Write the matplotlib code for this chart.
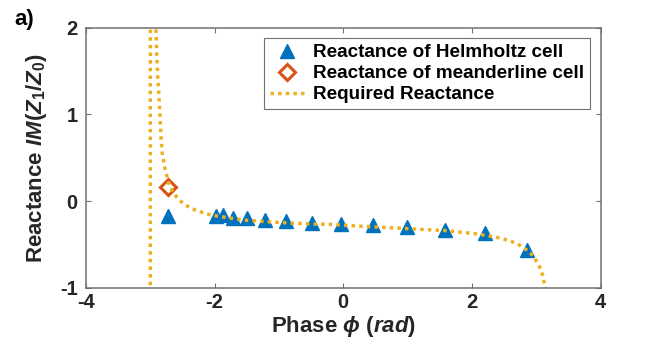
import matplotlib
matplotlib.use("Agg")
import matplotlib.pyplot as plt

# Helmholtz cell reactance (blue triangles)
helm_phase = [-2.72, -1.98, -1.875, -1.71, -1.50, -1.22, -0.89, -0.49,
              -0.04, 0.46, 0.99, 1.58, 2.20, 2.86]
helm_react = [-0.17, -0.17, -0.16, -0.19, -0.20, -0.22, -0.23, -0.25,
              -0.26, -0.28, -0.30, -0.33, -0.37, -0.565]

# meanderline cell reactance (orange diamond)
mean_phase = [-2.72]
mean_react = [0.165]

# required reactance curve
req_phase = [-3.00, -3.00, -2.925, -2.913, -2.893, -2.862, -2.835, -2.815,
             -2.79, -2.768, -2.737, -2.706, -2.653, -2.575, -2.488, -2.384,
             -2.271, -2.151, -2.031, -1.555, -1.19, -0.83, -0.456, -0.207,
             0.146, 0.638, 1.126, 1.608, 2.10, 2.463, 2.697, 2.893, 2.966,
             3.033, 3.085, 3.11, 3.137, 3.15]
req_react = [-1.5, 2.6, 2.2, 2.00, 1.55, 1.165, 0.75, 0.55,
             0.45, 0.36, 0.27, 0.185, 0.107, 0.031, -0.027, -0.077,
             -0.112, -0.142, -0.165, -0.219, -0.238, -0.254, -0.265, -0.269,
             -0.285, -0.304, -0.323, -0.342, -0.381, -0.43, -0.488, -0.585, -0.65,
             -0.73, -0.815, -0.90, -0.99, -1.1]

xticks = [-4, -2, 0, 2, 4]
yticks = [-1, 0, 1, 2]

plt.rcParams['font.family'] = ['Liberation Sans', 'DejaVu Sans']
plt.rcParams['font.weight'] = 'bold'
plt.rcParams['axes.unicode_minus'] = False
plt.rcParams['mathtext.fontset'] = 'custom'
plt.rcParams['mathtext.rm'] = 'Liberation Sans:bold'
plt.rcParams['mathtext.bf'] = 'Liberation Sans:bold'
plt.rcParams['mathtext.it'] = 'Liberation Sans:italic:bold'

fig = plt.figure(figsize=(6.64, 3.48), dpi=100)
ax = fig.add_axes([0.1295, 0.1733, 0.775, 0.7467])

ax.plot(helm_phase, helm_react, linestyle='none', marker='^', markersize=10,
        color='#0072BD', label='Reactance of Helmholtz cell')
ax.plot(mean_phase, mean_react, linestyle='none', marker='D', markersize=8,
        markeredgewidth=2.2, markerfacecolor='white', color='#D95319',
        label='Reactance of meanderline cell')
ax.plot(req_phase, req_react, linestyle=(0, (1, 1.2)), linewidth=2.5,
        color='#EDB120', label='Required Reactance')

ax.set_xlim(-4, 4)
ax.set_ylim(-1, 2)
ax.set_xticks(xticks)
ax.set_yticks(yticks)
ax.tick_params(direction='in', top=True, right=True, length=3.6, width=0.8,
               color='#707070', labelsize=14.5, labelcolor='#262626')
ax.tick_params(axis='y', pad=6)
ax.tick_params(axis='x', pad=4)
for s in ax.spines.values():
    s.set_color('#707070')
    s.set_linewidth(1.1)

ax.set_xlabel(r'Phase $\phi$ $(rad)$', fontsize=16, fontweight='bold',
              color='#262626', labelpad=1)
ax.set_ylabel(r'Reactance $IM(Z_1/Z_0)$', fontsize=16, fontweight='bold',
              color='#262626', labelpad=8)

leg = ax.legend(loc='upper right', fontsize=13.6, fancybox=False, framealpha=1,
                edgecolor='#707070', borderaxespad=0.55, handlelength=1.8,
                handletextpad=0.5, labelspacing=0.2, borderpad=0.3)
leg.get_frame().set_linewidth(0.8)

fig.text(0.022, 0.928, 'a)', fontsize=16, fontweight='bold')

fig.savefig('out.png', dpi=100)
